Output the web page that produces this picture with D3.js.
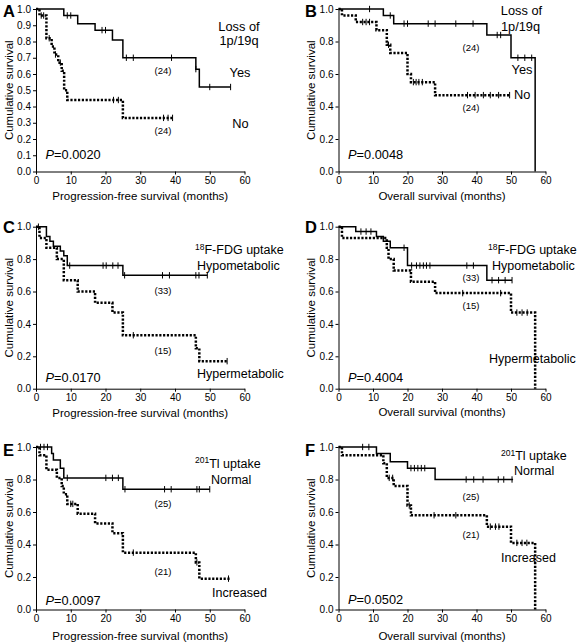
<!DOCTYPE html>
<html><head><meta charset="utf-8">
<script src="https://cdn.jsdelivr.net/npm/d3@7"></script>
<style>
body{margin:0;background:#fff}
svg{display:block}
text{font-family:"Liberation Sans",Arial,Helvetica,sans-serif;fill:#000}
</style>
</head><body>
<svg id="chart" width="578" height="644"></svg>
<script>
// ---------- data ----------
const xTicks = [0, 10, 20, 30, 40, 50, 60];
const yTicksFine = [0.0, 0.1, 0.2, 0.3, 0.4, 0.5, 0.6, 0.7, 0.8, 0.9, 1.0];
const yTicksCoarse = [0.0, 0.2, 0.4, 0.6, 0.8, 1.0];
const pfsTitle = "Progression-free survival (months)";
const osTitle = "Overall survival (months)";
const yTitle = "Cumulative survival";

// A: PFS by loss of 1p/19q
const aYesTimes = [0, 8, 12, 17, 22, 25, 46, 47, 56];
const aYesSurv  = [1.0, 0.96, 0.91, 0.87, 0.81, 0.70, 0.63, 0.52, 0.52];
const aYesCens  = [9, 10, 19, 20, 26, 28, 39, 46, 50, 56];
const aNoTimes  = [0, 1, 3, 4.5, 5.3, 6.4, 7.4, 8.1, 9, 25, 39.3];
const aNoSurv   = [1.0, 0.96, 0.82, 0.77, 0.72, 0.67, 0.62, 0.50, 0.44, 0.33, 0.33];
const aNoCens   = [1.5, 2.2, 3.8, 5.6, 7, 22.3, 23.7, 36.7, 38, 39.3];

// B: OS by loss of 1p/19q
const bYesTimes = [0, 13, 16, 43, 50, 57];
const bYesSurv  = [1.0, 0.96, 0.91, 0.84, 0.70, 0.0];
const bYesCens  = [9, 15, 19, 20, 26, 28, 34, 39, 46, 47, 52, 54, 56];
const bNoTimes  = [0, 1, 5, 11, 14, 15, 20, 21, 28, 49.6];
const bNoSurv   = [1.0, 0.96, 0.92, 0.87, 0.78, 0.73, 0.60, 0.55, 0.47, 0.47];
const bNoCens   = [7, 8, 9, 14.5, 21.7, 22.5, 23.3, 24.3, 37.4, 39.6, 42, 44, 46.4, 49.6];

// C: PFS by 18F-FDG uptake
const cHypoTimes = [0, 3, 4, 5, 7, 8, 9, 25, 49.3];
const cHypoSurv  = [1.0, 0.94, 0.91, 0.88, 0.85, 0.82, 0.76, 0.70, 0.70];
const cHypoCens  = [0.7, 9.7, 19.3, 20.2, 22.1, 23.6, 25.5, 36.4, 38.4, 46, 46.9, 49.3];
const cHyperTimes = [0, 1, 3, 6, 8, 12, 17, 22, 25, 46, 47, 55];
const cHyperSurv  = [1.0, 0.93, 0.87, 0.80, 0.67, 0.60, 0.53, 0.47, 0.33, 0.25, 0.17, 0.17];
const cHyperCens  = [28, 55];

// D: OS by 18F-FDG uptake
const dHypoTimes = [0, 5, 11, 13, 15, 20, 43, 50.3];
const dHypoSurv  = [1.0, 0.97, 0.94, 0.91, 0.87, 0.76, 0.67, 0.67];
const dHypoCens  = [6.5, 8, 9.4, 19, 21.2, 22.6, 23.6, 24.6, 25.5, 26.5, 37.2, 39.1, 44.5, 46.4, 48.3, 50.3];
const dHyperTimes = [0, 1, 14, 14.5, 16, 21, 28, 50, 57];
const dHyperSurv  = [1.0, 0.93, 0.87, 0.80, 0.73, 0.66, 0.59, 0.47, 0.0];
const dHyperCens  = [36, 47, 51.7, 53.2, 54.7];

// E: PFS by 201Tl uptake
const eNormTimes = [0, 4.5, 5, 7, 8, 25, 50];
const eNormSurv  = [1.0, 0.96, 0.92, 0.87, 0.81, 0.74, 0.74];
const eNormCens  = [1.3, 2.3, 3.3, 9, 20.1, 22, 23.7, 25.6, 37, 38.9, 46.3, 47, 50];
const eIncTimes = [0, 1, 3, 6, 7.4, 8, 9, 12, 17, 22, 25, 46, 47, 56];
const eIncSurv  = [1.0, 0.95, 0.86, 0.81, 0.76, 0.71, 0.65, 0.59, 0.53, 0.47, 0.35, 0.29, 0.19, 0.19];
const eIncCens  = [10, 10.6, 28, 46.3, 55.4];

// F: OS by 201Tl uptake
const fNormTimes = [0, 11, 15, 20, 28, 50.6];
const fNormSurv  = [1.0, 0.96, 0.91, 0.87, 0.80, 0.80];
const fNormCens  = [7, 8.8, 21, 22, 23, 24, 25, 37, 39.2, 41.9, 46.3, 47.9, 50.3];
const fIncTimes = [0, 1, 13, 14, 16, 20, 21, 43, 50, 57];
const fIncSurv  = [1.0, 0.95, 0.90, 0.81, 0.76, 0.64, 0.58, 0.51, 0.41, 0.0];
const fIncCens  = [14.7, 15.7, 20.5, 27.7, 34, 44, 45.5, 46.5, 51.7, 53.2, 54.6];

// ---------- layout ----------
const cols = [{x0: 36, x1: 244.5, letterX: 3, yTitleX: 12.5, tickX: 141}, {x0: 338.5, x1: 545.5, letterX: 305, yTitleX: 315, tickX: 443}];
const rows = [{top: 9, bottom: 171.5}, {top: 226.7, bottom: 388.7}, {top: 447, bottom: 609.5}];

const panels = [
  {letter: "A", col: 0, row: 0, letterY: 17, xTitle: pfsTitle, xTitleY: 200, yTicks: yTicksFine, p: "0.0020", pY: 159,
   curves: [{t: aYesTimes, s: aYesSurv, c: aYesCens, dotted: false}, {t: aNoTimes, s: aNoSurv, c: aNoCens, dotted: true}],
   labels: [
     {text: "Loss of", x: 239, y: 31, anchor: "middle", size: 12.8},
     {text: "1p/19q", x: 239, y: 45, anchor: "middle", size: 12.8},
     {text: "Yes", x: 240, y: 77, anchor: "middle", size: 12.8},
     {text: "No", x: 240.5, y: 128, anchor: "middle", size: 12.8},
     {text: "(24)", x: 163, y: 74, anchor: "middle", size: 9.5},
     {text: "(24)", x: 163, y: 134, anchor: "middle", size: 9.5}
   ]},
  {letter: "B", col: 1, row: 0, letterY: 17, xTitle: osTitle, xTitleY: 200, yTicks: yTicksCoarse, p: "0.0048", pY: 159,
   curves: [{t: bYesTimes, s: bYesSurv, c: bYesCens, dotted: false}, {t: bNoTimes, s: bNoSurv, c: bNoCens, dotted: true}],
   labels: [
     {text: "Loss of", x: 521.5, y: 15, anchor: "middle", size: 12.8},
     {text: "1p/19q", x: 520.5, y: 31, anchor: "middle", size: 12.8},
     {text: "Yes", x: 522, y: 74, anchor: "middle", size: 12.8},
     {text: "No", x: 514, y: 99, anchor: "start", size: 12.8},
     {text: "(24)", x: 471, y: 51, anchor: "middle", size: 9.5},
     {text: "(24)", x: 471, y: 111, anchor: "middle", size: 9.5}
   ]},
  {letter: "C", col: 0, row: 1, letterY: 232.5, xTitle: pfsTitle, xTitleY: 417, yTicks: yTicksCoarse, p: "0.0170", pY: 381.5,
   curves: [{t: cHypoTimes, s: cHypoSurv, c: cHypoCens, dotted: false}, {t: cHyperTimes, s: cHyperSurv, c: cHyperCens, dotted: true}],
   labels: [
     {sup: "18", text: "F-FDG uptake", x: 195, y: 254, anchor: "start", size: 12.5},
     {text: "Hypometabolic", x: 197, y: 269.5, anchor: "start", size: 12.5},
     {text: "Hypermetabolic", x: 197, y: 377.5, anchor: "start", size: 12.5},
     {text: "(33)", x: 163, y: 294, anchor: "middle", size: 9.5},
     {text: "(15)", x: 163, y: 354, anchor: "middle", size: 9.5}
   ]},
  {letter: "D", col: 1, row: 1, letterY: 232.5, xTitle: osTitle, xTitleY: 416, yTicks: yTicksCoarse, p: "0.4004", pY: 381.5,
   curves: [{t: dHypoTimes, s: dHypoSurv, c: dHypoCens, dotted: false}, {t: dHyperTimes, s: dHyperSurv, c: dHyperCens, dotted: true}],
   labels: [
     {sup: "18", text: "F-FDG uptake", x: 488, y: 254, anchor: "start", size: 12.5},
     {text: "Hypometabolic", x: 492, y: 269.5, anchor: "start", size: 12.5},
     {text: "Hypermetabolic", x: 489, y: 363, anchor: "start", size: 12.5},
     {text: "(33)", x: 471, y: 281, anchor: "middle", size: 9.5},
     {text: "(15)", x: 471, y: 309, anchor: "middle", size: 9.5}
   ]},
  {letter: "E", col: 0, row: 2, letterY: 455.5, xTitle: pfsTitle, xTitleY: 639.5, yTicks: yTicksCoarse, p: "0.0097", pY: 604.5,
   curves: [{t: eNormTimes, s: eNormSurv, c: eNormCens, dotted: false}, {t: eIncTimes, s: eIncSurv, c: eIncCens, dotted: true}],
   labels: [
     {sup: "201", text: "Tl uptake", x: 195, y: 467.5, anchor: "start", size: 12.5},
     {text: "Normal", x: 211, y: 483.5, anchor: "start", size: 12.5},
     {text: "Increased", x: 212, y: 596.5, anchor: "start", size: 12.5},
     {text: "(25)", x: 163, y: 507, anchor: "middle", size: 9.5},
     {text: "(21)", x: 163, y: 575, anchor: "middle", size: 9.5}
   ]},
  {letter: "F", col: 1, row: 2, letterY: 455.5, xTitle: osTitle, xTitleY: 639.5, yTicks: yTicksCoarse, p: "0.0502", pY: 604,
   curves: [{t: fNormTimes, s: fNormSurv, c: fNormCens, dotted: false}, {t: fIncTimes, s: fIncSurv, c: fIncCens, dotted: true}],
   labels: [
     {sup: "201", text: "Tl uptake", x: 501, y: 460, anchor: "start", size: 12.5},
     {text: "Normal", x: 514, y: 475, anchor: "start", size: 12.5},
     {text: "Increased", x: 501, y: 561.5, anchor: "start", size: 12.5},
     {text: "(25)", x: 471, y: 499.5, anchor: "middle", size: 9.5},
     {text: "(21)", x: 471, y: 537.5, anchor: "middle", size: 9.5}
   ]}
];

// ---------- drawing ----------
const svg = d3.select("#chart");
svg.append("rect").attr("width", 578).attr("height", 644).attr("fill", "#fff");

function survAt(times, surv, t) {
  let v = surv[0];
  for (let i = 0; i < times.length; i++) { if (times[i] <= t) v = surv[i]; }
  return v;
}

panels.forEach(p => {
  const col = cols[p.col], row = rows[p.row];
  const x = d3.scaleLinear().domain([0, 60]).range([col.x0, col.x1]);
  const y = d3.scaleLinear().domain([0, 1]).range([row.bottom, row.top]);
  const g = svg.append("g");

  // axes
  const ax = g.append("g").attr("transform", `translate(0,${row.bottom})`)
    .call(d3.axisBottom(x).tickValues(xTicks).tickSize(3).tickSizeOuter(0).tickPadding(2).tickFormat(d3.format("d")));
  const ay = g.append("g").attr("transform", `translate(${col.x0},0)`)
    .call(d3.axisLeft(y).tickValues(p.yTicks).tickSize(3).tickSizeOuter(0).tickPadding(2).tickFormat(d3.format(".1f")));
  [ax, ay].forEach(a => {
    a.selectAll("path.domain").attr("stroke", "#000").attr("stroke-width", 1);
    a.selectAll(".tick line").attr("stroke", "#000").attr("stroke-width", 1);
    a.selectAll("text").attr("font-size", 10).attr("fill", "#000")
      .style("font-family", '"Liberation Sans",Arial,Helvetica,sans-serif');
  });

  // curves
  const line = d3.line().x(d => x(d[0])).y(d => y(d[1])).curve(d3.curveStepAfter);
  p.curves.forEach(c => {
    const pts = c.t.map((t, i) => [t, c.s[i]]);
    g.append("path").attr("d", line(pts)).attr("fill", "none").attr("stroke", "#000")
      .attr("stroke-width", c.dotted ? 2.5 : 1.5)
      .attr("stroke-dasharray", c.dotted ? "2.2,1.6" : null)
      .attr("stroke-linejoin", "miter");
    g.selectAll(null).data(c.c).enter().append("line")
      .attr("x1", d => x(d)).attr("x2", d => x(d))
      .attr("y1", d => y(survAt(c.t, c.s, d)) - 3.2)
      .attr("y2", d => y(survAt(c.t, c.s, d)) + 3.2)
      .attr("stroke", "#000").attr("stroke-width", 1);
  });

  // panel letter
  g.append("text").attr("x", col.letterX).attr("y", p.letterY).attr("font-size", 16.5)
    .attr("font-weight", "bold").text(p.letter);

  // axis titles
  g.append("text").attr("x", (col.x0 + col.x1) / 2).attr("y", p.xTitleY)
    .attr("text-anchor", "middle").attr("font-size", 11.5).text(p.xTitle);
  g.append("text").attr("transform", `translate(${col.yTitleX},${(row.top + row.bottom) / 2}) rotate(-90)`)
    .attr("text-anchor", "middle").attr("font-size", 11.5).text(yTitle);

  // P value
  const pt = g.append("text").attr("x", col.x0 + 9.5).attr("y", p.pY).attr("font-size", 12.8);
  pt.append("tspan").attr("font-style", "italic").text("P");
  pt.append("tspan").text("=" + p.p);

  // labels
  p.labels.forEach(l => {
    const t = g.append("text").attr("x", l.x).attr("y", l.y).attr("text-anchor", l.anchor).attr("font-size", l.size);
    if (l.sup) {
      t.append("tspan").attr("font-size", l.size * 0.68).attr("dy", -4.5).text(l.sup);
      t.append("tspan").attr("dy", 4.5).text(l.text);
    } else {
      t.text(l.text);
    }
  });
});
</script>
</body></html>
